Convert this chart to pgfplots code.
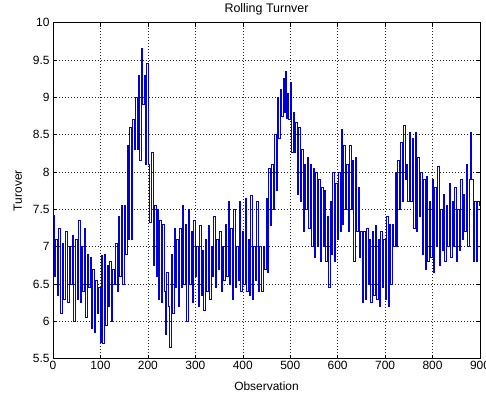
\documentclass[border=0pt]{standalone}
\usepackage{pgfplots}
\pgfplotsset{compat=1.18}
\usepackage{fontspec}
\setmainfont{Liberation Sans}

% rolling turnover, stored as the levels of a step series
\pgfplotstableread{
obs turnover
0 7.42
3 6.6
6 7.1
9 6.35
12 7.25
15 6.1
19 7.05
23 6.3
27 7.2
31 6.25
34 7.0
37 6.5
40 7.15
44 6.0
48 7.1
51 6.3
54 7.35
57 6.25
60 7.0
63 6.4
66 7.25
69 6.05
72 6.9
75 6.45
78 6.85
81 5.9
84 6.7
87 5.85
90 6.55
93 6.1
96 6.45
99 5.72
102 6.88
105 5.7
108 6.9
111 5.95
114 6.75
117 6.2
120 6.8
123 6.0
126 6.7
129 6.5
132 7.05
135 6.4
138 7.4
141 6.6
144 7.55
147 6.5
150 7.55
153 6.9
156 8.35
159 7.1
162 8.6
165 7.1
168 8.7
171 8.3
174 9.0
177 8.3
180 9.3
183 8.15
186 9.65
189 8.9
192 9.3
195 8.1
198 9.45
201 8.1
204 7.32
207 8.26
211 6.75
214 7.55
217 6.6
220 7.5
222 6.3
225 7.35
228 6.25
231 7.3
234 6.4
237 5.83
240 6.65
243 6.2
246 5.65
249 6.9
252 6.1
255 7.25
258 6.45
261 7.1
264 6.2
267 7.25
270 6.45
273 7.55
276 6.5
279 7.3
282 6.0
285 7.5
288 6.5
291 7.2
294 6.25
297 7.35
300 6.6
303 7.0
306 6.2
309 7.28
312 6.35
315 6.95
318 6.15
321 7.1
324 6.4
327 7.28
330 6.3
333 7.0
336 6.6
339 7.4
342 6.45
345 7.1
348 6.7
351 7.2
354 6.4
357 7.0
360 6.55
363 7.3
366 6.6
369 7.6
372 6.5
375 7.25
378 6.3
381 7.5
384 6.45
387 7.0
390 6.55
393 7.6
396 6.4
399 7.2
402 6.5
405 7.65
408 6.4
411 7.1
414 6.35
417 7.68
420 6.3
423 7.0
426 6.55
429 7.6
432 6.4
435 7.0
440 6.4
443 7.0
446 6.7
449 7.65
452 6.65
455 8.05
458 7.28
461 8.1
464 7.5
467 8.5
470 7.75
473 9.0
476 8.45
479 9.1
482 8.75
485 9.25
487 8.8
489 9.35
491 8.72
494 9.05
497 8.7
500 9.2
503 8.26
506 8.8
509 8.26
512 8.66
515 7.7
518 8.6
521 7.6
524 8.3
527 7.2
530 8.1
533 7.5
536 8.2
539 7.25
542 8.1
545 7.0
548 8.05
551 6.85
554 8.0
557 7.0
560 7.9
563 6.8
566 7.8
569 7.0
572 7.75
575 6.8
578 7.4
581 6.45
584 7.6
587 6.9
590 8.0
593 6.8
596 7.85
599 7.1
602 8.0
605 7.2
607 8.57
610 7.3
613 8.35
616 7.5
619 8.1
622 7.2
625 8.35
628 7.5
631 8.15
634 6.8
637 8.2
640 7.2
643 7.8
646 6.85
649 7.2
652 6.25
655 7.2
658 6.3
661 7.25
664 6.5
667 7.1
670 6.25
673 7.2
676 6.35
679 7.28
682 6.3
685 7.1
688 6.2
691 7.2
694 6.45
697 7.1
700 6.3
703 7.4
706 6.2
709 7.3
712 6.5
715 7.3
718 7.0
721 8.0
724 7.0
727 8.15
730 7.5
733 8.4
736 7.6
739 8.62
742 7.9
745 8.1
748 7.6
751 8.53
754 7.6
757 8.45
760 7.25
763 8.53
766 7.2
769 8.2
772 7.4
775 8.0
778 6.9
781 7.9
784 6.7
787 7.94
790 6.8
793 7.6
796 6.85
799 7.9
802 6.65
805 7.8
808 7.0
811 8.08
814 6.75
817 7.5
820 6.95
823 7.7
826 6.8
829 7.55
832 7.0
835 7.85
838 6.85
841 7.6
844 7.0
847 7.8
850 6.8
853 7.5
856 6.95
859 7.9
862 7.1
865 7.7
868 7.2
871 8.1
874 7.0
877 7.9
880 8.53
883 7.9
886 6.8
889 7.6
892 6.8
895 7.6
898 7.55
900 7.55
}\turnover

\begin{document}
\begin{tikzpicture}
\begin{axis}[
  scale only axis,
  width=427bp, height=336bp,
  xmin=0, xmax=900, ymin=5.5, ymax=10,
  xtick={0,100,...,900},
  ytick={5.5,6,6.5,7,7.5,8,8.5,9,9.5,10},
  tick align=inside,
  major tick length=4bp,
  tick style={black, line width=0.5bp},
  axis line style={black, line width=0.6bp},
  grid=major,
  major grid style={black!85, line width=0.5bp, dash pattern=on 1bp off 2bp},
  /pgf/number format/assume math mode=true,
  ticklabel style={font=\fontsize{12}{13}\selectfont},
  yticklabel style={/pgf/number format/fixed},
  xticklabel style={/pgf/number format/fixed, yshift=1bp},
  title={Rolling Turnver},
  title style={at={(axis description cs:0.5,1)}, anchor=base, yshift=4.4bp, font=\fontsize{12.5}{13}\selectfont},
  xlabel={Observation},
  xlabel style={at={(axis description cs:0.5,-0.0952)}, anchor=base, font=\fontsize{12}{13}\selectfont},
  ylabel={Turover},
  ylabel style={at={(axis description cs:-0.0726,0.5)}, anchor=base, font=\fontsize{12}{13}\selectfont},
]
\coordinate (bl) at (rel axis cs:0,0);
\coordinate (tr) at (rel axis cs:1,1);
\addplot[const plot, color={rgb,1:red,0;green,0;blue,0.85}, line width=0.9bp] table[x=obs, y=turnover] {\turnover};
\end{axis}
\pgfresetboundingbox
\path[use as bounding box] ([xshift=-53bp,yshift=-41bp]bl) rectangle ([xshift=6bp,yshift=22.7bp]tr);
\end{tikzpicture}
\end{document}
